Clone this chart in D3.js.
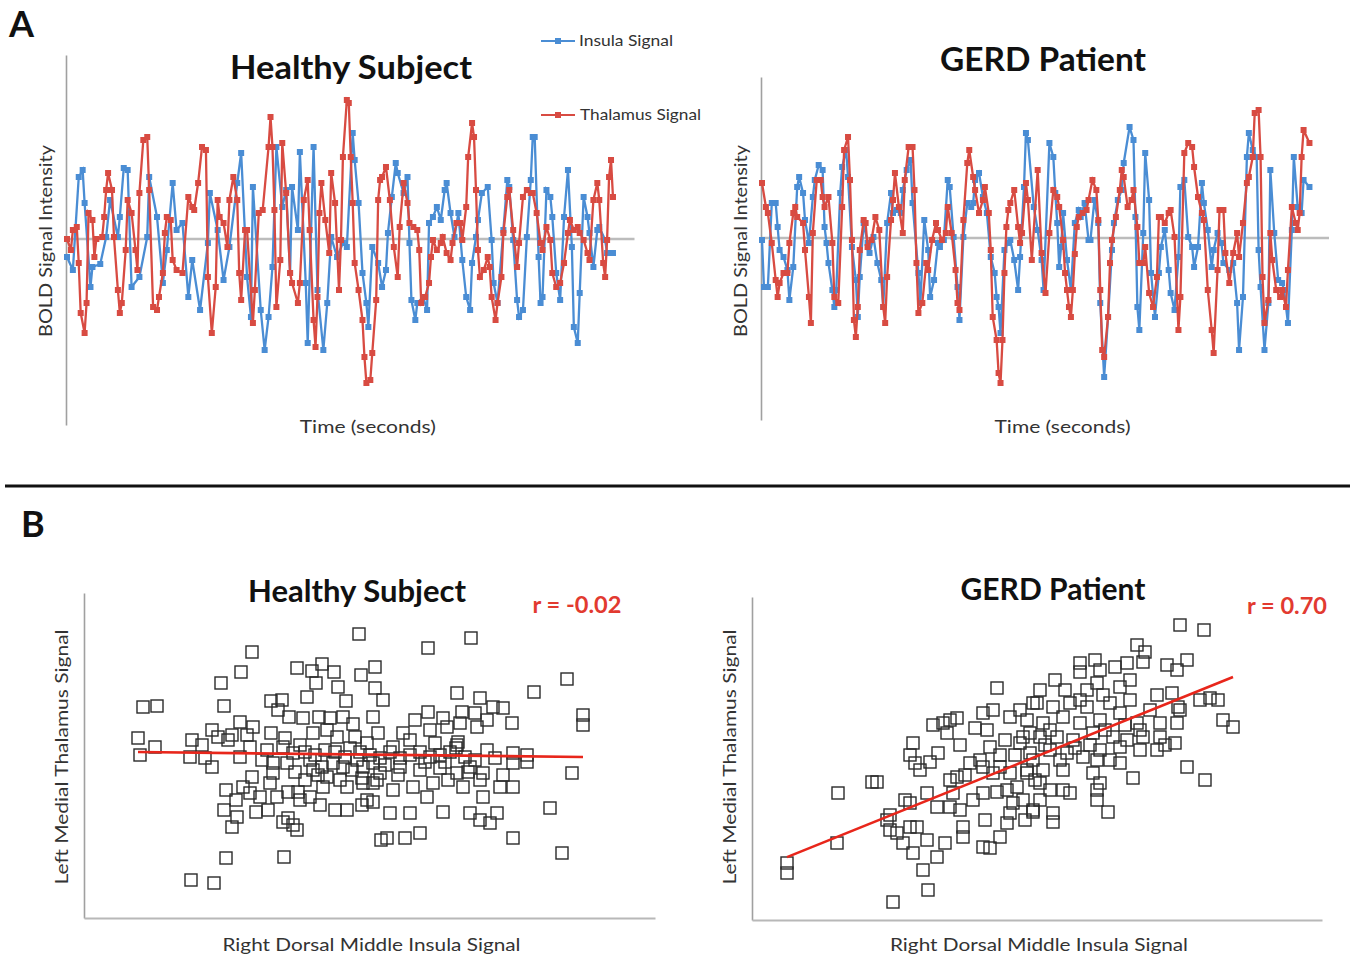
<!DOCTYPE html>
<meta charset="utf-8">
<style>
body { margin:0; background:#fff; }
text { font-family: Lato, "Open Sans", sans-serif; }
.title { font-weight:bold; font-size:32px; fill:#111; }
.axislabel { font-size:18px; fill:#333; }
.legend { font-size:15px; fill:#333; }
.rlabel { font-weight:bold; font-size:22px; fill:#e23a30; }
.axis path { stroke:#a0a0a0; stroke-width:1.6; }
.axis line { display:none; }
</style>
<body>
<svg width="1352" height="957"></svg>
<script src="https://d3js.org/d3.v7.min.js"></script>
<script>

// panel A: [time (s), BOLD signal]
var healthyInsula = [[0,-0.18],[3,-0.31],[6,0.62],[8,0.69],[9,0.36],[12,-0.48],[13,-0.28],[17,-0.25],[20,0.02],[22,0.39],[26,0.02],[27,0.22],[29,0.71],[31,0.69],[33,-0.48],[37,-0.38],[41,0.02],[42,0.62],[46,0.22],[49,-0.44],[51,-0.11],[54,0.56],[56,0.09],[59,0.16],[62,-0.58],[64,-0.21],[68,-0.71],[72,-0.04],[73,0.46],[77,0.09],[80,-0.41],[83,-0.08],[87,0.56],[89,0.86],[92,-0.38],[94,-0.78],[95,0.52],[99,-0.71],[101,-1.11],[103,-0.78],[105,-0.28],[107,0.92],[110,0.32],[112,0.49],[114,-0.34],[115,0.52],[118,0.09],[119,0.87],[122,-0.44],[123,-1.04],[126,0.92],[128,-0.51],[131,-1.11],[133,-0.64],[135,0.02],[138,-0.18],[141,-0.04],[143,-0.08],[146,1.06],[147,0.79],[149,0.36],[151,-0.34],[153,-0.64],[154,-0.88],[156,-0.08],[159,-0.24],[161,-0.48],[163,-0.31],[164,0.06],[166,0.42],[168,0.76],[169,0.66],[172,0.46],[174,0.62],[175,-0.04],[176,-0.61],[178,-0.81],[179,-0.64],[182,-0.58],[184,-0.71],[185,0.16],[187,0.22],[189,0.32],[191,0.19],[193,0.49],[194,0.56],[196,0.26],[198,0.02],[200,0.26],[202,-0.21],[204,-0.58],[206,-0.71],[207,-0.24],[209,0.02],[210,0.19],[212,0.46],[215,0.52],[217,-0.01],[218,-0.44],[220,-0.64],[223,0.09],[225,0.59],[226,0.52],[228,-0.01],[230,-0.61],[231,-0.78],[233,-0.71],[235,0.02],[237,0.59],[238,1.02],[239,1.02],[241,-0.18],[242,-0.64],[243,-0.58],[245,0.49],[247,0.42],[248,0.22],[250,-0.34],[252,-0.61],[254,0.22],[256,0.69],[258,-0.08],[259,-0.88],[261,-1.04],[262,-0.54],[264,0.42],[266,0.22],[267,0.06],[269,-0.28],[271,0.09],[272,0.12],[275,-0.01],[276,-0.14],[279,-0.14]];

var healthyThalamus = [[0,0],[2,-0.11],[3,0.09],[5,0.12],[6,-0.24],[7,-0.74],[9,-0.94],[10,-0.64],[11,0.26],[13,0.19],[14,-0.18],[15,0],[18,0.02],[19,0.22],[20,0.49],[21,0.66],[23,0.49],[24,0.02],[26,-0.51],[27,-0.74],[28,-0.64],[30,-0.11],[31,0.39],[33,0.26],[35,-0.11],[36,-0.31],[37,0.46],[39,0.99],[41,1.02],[42,0.49],[44,-0.68],[46,-0.71],[47,-0.58],[49,-0.34],[50,0.06],[51,0.22],[53,0.19],[54,-0.21],[56,-0.31],[59,-0.34],[62,0.42],[64,0.32],[65,0.29],[67,0.56],[69,0.92],[71,0.89],[72,-0.38],[74,-0.94],[76,-0.48],[77,0.39],[78,0.22],[80,0.16],[82,-0.08],[83,0.39],[85,0.62],[87,0.39],[88,-0.34],[89,-0.61],[91,0.09],[92,0.09],[95,-0.84],[96,-0.51],[98,0.26],[100,0.29],[103,0.92],[104,1.22],[105,0.92],[106,0.29],[107,-0.68],[109,-0.21],[110,0.96],[112,0.46],[114,-0.34],[115,-0.44],[118,-0.64],[119,-0.44],[121,0.39],[123,0.59],[124,0.09],[126,-0.81],[127,-1.08],[128,-0.58],[129,0.26],[130,0.56],[132,0.19],[134,-0.14],[135,0.66],[137,0.36],[139,-0.51],[140,-0.01],[141,0.82],[143,1.39],[144,1.36],[145,0.82],[146,0.36],[147,-0.24],[149,-0.51],[151,-0.81],[152,-1.18],[153,-1.44],[155,-1.41],[156,-1.14],[158,-0.61],[159,0.39],[160,0.59],[161,0.62],[163,0.72],[165,0.39],[167,-0.08],[169,-0.38],[170,0.12],[172,0.56],[174,0.36],[175,0.16],[177,0.12],[179,0.09],[180,-0.11],[181,-0.64],[183,-0.58],[185,-0.44],[186,-0.18],[187,-0.01],[189,-0.11],[191,-0.04],[192,0.02],[194,-0.14],[196,-0.21],[197,-0.04],[199,0.16],[201,0.16],[202,-0.01],[204,0.32],[205,0.82],[207,1.16],[208,1.02],[209,0.49],[210,-0.11],[211,-0.38],[213,-0.31],[215,-0.18],[216,-0.28],[217,-0.58],[219,-0.81],[220,-0.64],[222,-0.38],[223,0.06],[225,0.42],[226,0.49],[228,0.09],[230,-0.28],[231,-0.04],[233,0.42],[235,0.49],[237,0.46],[238,0.46],[240,0.26],[242,-0.04],[243,-0.11],[245,0.12],[247,-0.01],[248,-0.34],[250,-0.48],[252,-0.44],[254,-0.24],[256,0.06],[257,0.19],[259,0.09],[261,0.12],[262,0.06],[264,-0.01],[266,-0.14],[267,-0.21],[269,0.39],[271,0.56],[272,0.39],[274,-0.24],[275,-0.38],[276,-0.01],[277,0.62],[278,0.79],[279,0.42]];

var gerdInsula = [[0,-0.02],[1,-0.49],[3,-0.49],[5,0.35],[7,0.35],[8,0.11],[9,-0.12],[11,-0.19],[13,-0.32],[14,-0.62],[16,-0.29],[18,0.51],[19,0.61],[21,0.45],[22,0.18],[24,-0.05],[26,0.41],[27,0.58],[29,0.73],[31,0.68],[32,0.11],[33,-0.05],[34,-0.25],[36,-0.52],[37,-0.69],[38,-0.52],[40,0.45],[41,0.71],[43,0.88],[44,0.61],[46,-0.09],[48,-0.42],[49,-0.79],[50,-0.39],[52,0.15],[54,-0.05],[55,-0.15],[57,0.01],[59,-0.25],[61,-0.42],[62,-0.69],[64,0.15],[66,0.45],[67,0.25],[69,0.28],[71,0.25],[72,0.48],[74,0.68],[76,0.78],[77,0.35],[80,-0.35],[81,-0.65],[83,0.18],[85,-0.12],[86,-0.59],[88,-0.42],[90,-0.05],[91,-0.09],[93,-0.02],[95,0.58],[96,0.51],[98,0.01],[100,-0.49],[101,-0.82],[103,0.01],[105,0.35],[107,0.31],[108,0.35],[109,0.58],[111,0.65],[113,0.41],[115,0.25],[117,-0.19],[119,-0.35],[120,-0.59],[121,-0.69],[122,-0.95],[124,-0.12],[126,-0.05],[127,-0.02],[129,-0.22],[131,-0.52],[132,-0.19],[134,0.51],[135,1.05],[136,0.98],[139,0.31],[141,0.08],[143,-0.22],[144,-0.52],[147,0.95],[149,0.81],[150,0.45],[151,0.15],[152,-0.29],[153,-0.09],[154,0.25],[156,-0.22],[158,-0.52],[160,0.15],[162,0.28],[163,0.21],[165,0.35],[167,-0.02],[168,-0.02],[170,0.38],[172,0.15],[173,-0.65],[175,-1.39],[177,-0.79],[179,-0.12],[180,0.15],[182,0.38],[184,0.48],[185,0.75],[188,1.11],[190,0.98],[191,0.21],[192,-0.69],[193,-0.92],[195,0.05],[196,0.85],[198,0.38],[199,-0.35],[201,-0.79],[203,-0.35],[204,-0.09],[206,0.08],[208,-0.32],[209,-0.55],[211,-0.72],[213,-0.19],[214,0.51],[216,0.58],[218,0.01],[220,-0.09],[221,-0.29],[223,-0.09],[225,0.55],[226,0.35],[228,0.08],[230,-0.29],[231,-0.12],[233,0.05],[235,-0.05],[236,-0.25],[239,-0.32],[241,-0.25],[243,-0.65],[244,-1.12],[246,-0.59],[248,0.81],[249,1.05],[251,0.88],[253,0.81],[254,-0.12],[255,-0.49],[257,-1.12],[259,-0.65],[260,0.68],[262,0.05],[264,-0.42],[266,-0.45],[267,-0.52],[269,-0.85],[271,0.08],[272,0.81],[274,0.31],[276,0.25],[277,0.58],[280,0.51]];

var gerdThalamus = [[0,0.55],[2,0.31],[3,0.25],[5,-0.05],[7,-0.42],[8,-0.59],[9,-0.45],[11,-0.35],[13,-0.35],[14,-0.05],[16,0.25],[17,0.31],[18,0.21],[21,0.15],[22,-0.12],[24,-0.59],[25,-0.85],[26,0.05],[28,0.58],[30,0.58],[31,0.41],[32,0.31],[34,0.41],[36,-0.05],[37,-0.59],[39,-0.65],[41,0.31],[42,0.88],[44,1.01],[45,0.58],[46,-0.02],[47,-0.82],[48,-0.99],[49,-0.69],[50,-0.12],[52,0.18],[53,0.15],[54,-0.09],[56,-0.02],[58,0.21],[60,0.08],[62,-0.69],[63,-0.85],[64,-0.39],[66,0.18],[67,0.38],[68,0.65],[70,0.31],[72,0.05],[73,0.58],[75,0.91],[77,0.91],[78,0.48],[79,-0.25],[80,-0.75],[82,-0.65],[84,-0.25],[85,-0.32],[87,-0.02],[89,0.15],[90,0.08],[92,-0.02],[94,0.05],[95,0.31],[97,0.05],[99,-0.32],[100,-0.65],[101,-0.72],[103,0.18],[105,0.75],[106,0.88],[108,0.61],[109,0.48],[111,0.25],[113,0.38],[114,0.51],[116,0.25],[117,-0.12],[118,-0.79],[120,-1.02],[121,-1.35],[122,-1.45],[123,-1.02],[124,-0.35],[125,0.11],[126,0.28],[127,0.35],[129,0.48],[131,0.11],[132,-0.05],[133,0.05],[135,0.55],[136,0.38],[138,-0.22],[141,0.68],[143,-0.15],[145,-0.55],[147,0.05],[149,0.48],[151,0.41],[152,0.31],[154,-0.02],[155,-0.35],[156,-0.52],[157,-0.69],[158,-0.79],[159,-0.52],[160,-0.16],[161,0.11],[162,0.21],[164,0.25],[166,0.28],[167,0.38],[169,0.58],[171,0.48],[172,0.18],[173,-0.52],[174,-1.12],[175,-1.19],[177,-0.79],[178,-0.25],[179,-0.02],[181,0.21],[183,0.48],[184,0.68],[185,0.61],[187,0.31],[189,0.38],[190,0.48],[192,0.11],[193,-0.25],[195,-0.25],[196,-0.09],[198,-0.55],[200,-0.69],[202,-0.39],[203,0.21],[204,0.21],[206,0.15],[208,0.25],[209,0.28],[211,0.01],[213,-0.92],[214,-0.59],[216,0.85],[218,0.95],[220,0.91],[221,0.71],[223,0.41],[225,0.25],[226,0.18],[228,-0.52],[230,-0.92],[231,-1.15],[233,-0.32],[234,0.28],[236,0.28],[237,-0.15],[239,-0.45],[241,-0.15],[243,0.05],[244,-0.19],[246,0.15],[248,0.55],[249,0.61],[251,0.81],[252,1.25],[254,1.28],[255,0.81],[256,-0.39],[257,-0.85],[259,-0.62],[260,0.05],[261,-0.22],[263,-0.52],[265,-0.59],[266,-0.52],[268,-0.69],[269,-0.32],[271,0.31],[273,0.15],[274,0.08],[275,0.25],[276,0.81],[277,1.08],[280,0.95]];

// panel B: [right dorsal middle insula, left medial thalamus]
var healthyScatter = [[-0.01,1.21],[-1.08,1.03],[-1.19,0.83],[-1.39,0.72],[-2.17,0.48],[-2.03,0.49],[-1.36,0.49],[-0.63,0.87],[-0.48,0.84],[-0.38,0.91],[-0.26,0.83],[-0.44,0.72],[-0.22,0.68],[0.01,0.80],[0.15,0.88],[0.15,0.67],[-0.89,0.54],[-0.78,0.55],[-0.53,0.58],[-0.14,0.54],[-0.82,0.45],[-0.71,0.38],[-0.57,0.37],[-0.41,0.38],[-0.30,0.37],[-0.17,0.38],[-0.07,0.31],[0.13,0.38],[-1.48,0.25],[-1.20,0.33],[-1.07,0.28],[-1.42,0.18],[-1.28,0.20],[-1.13,0.20],[-0.89,0.22],[-1.68,0.15],[-1.58,0.10],[-2.22,0.17],[-2.05,0.08],[-2.20,0.00],[-1.48,-0.12],[-1.20,-0.02],[-1.10,0.08],[-0.93,0.05],[-0.77,0.08],[-0.67,0.02],[-0.47,0.22],[-0.33,0.25],[-0.23,0.18],[-0.05,0.18],[0.07,0.12],[-0.87,-0.08],[-0.73,-0.08],[-0.50,-0.05],[-0.38,-0.12],[-0.27,-0.08],[-0.17,-0.12],[-0.03,-0.05],[0.13,-0.08],[-0.87,-0.18],[-0.47,-0.15],[-0.33,-0.22],[-0.20,-0.25],[-0.13,-0.32],[0.03,-0.28],[0.17,-0.25],[-1.08,-0.22],[-1.17,-0.32],[-1.10,-0.38],[-1.00,-0.42],[-0.83,-0.42],[-0.72,-0.37],[-0.62,-0.37],[-0.50,-0.42],[-0.37,-0.32],[0.02,-0.50],[-0.13,-0.55],[0.13,-0.47],[-1.36,-0.55],[-1.23,-0.62],[-1.04,-0.57],[-1.28,-0.72],[-0.77,-0.67],[-0.67,-0.70],[-0.63,-0.75],[-1.34,-1.03],[-0.76,-1.02],[-1.69,-1.25],[-1.46,-1.28],[0.21,-0.85],[1.11,1.17],[0.68,1.07],[2.07,0.76],[1.74,0.63],[0.23,0.55],[0.97,0.62],[1.20,0.57],[1.43,0.47],[2.23,0.40],[2.23,0.30],[0.18,0.22],[0.55,0.35],[0.68,0.43],[0.83,0.37],[1.00,0.32],[1.15,0.42],[1.27,0.35],[1.33,0.48],[1.52,0.32],[1.02,0.43],[0.43,0.22],[0.70,0.25],[0.87,0.28],[1.17,0.28],[0.33,0.08],[0.50,0.15],[0.75,0.12],[0.97,0.10],[1.27,0.05],[1.53,0.02],[1.67,0.00],[1.53,-0.08],[1.67,-0.07],[2.12,-0.18],[0.03,-0.12],[0.20,-0.18],[0.40,-0.12],[0.60,-0.15],[0.80,-0.13],[0.97,-0.18],[1.10,-0.12],[1.23,-0.18],[1.43,-0.20],[0.13,-0.28],[0.33,-0.35],[0.53,-0.32],[0.73,-0.28],[0.88,-0.25],[1.03,-0.32],[1.20,-0.25],[1.40,-0.32],[1.53,-0.32],[0.07,-0.45],[0.30,-0.58],[0.50,-0.58],[0.67,-0.42],[0.83,-0.57],[1.10,-0.58],[1.23,-0.42],[1.37,-0.58],[1.20,-0.65],[1.30,-0.68],[1.90,-0.53],[0.27,-0.83],[0.45,-0.83],[0.60,-0.78],[1.53,-0.83],[2.02,-0.98],[-0.60,0.10],[-0.55,0.03],[-0.45,0.00],[-0.35,0.05],[-0.25,0.03],[-0.15,-0.02],[-0.10,0.07],[0.00,0.03],[0.10,0.00],[0.20,-0.03],[0.30,0.03],[0.40,-0.03],[0.50,0.00],[0.60,0.03],[0.70,-0.02],[0.80,0.00],[0.90,0.03],[0.96,0.07],[0.98,0.13],[1.05,-0.02],[1.15,-0.05],[1.35,-0.03],[-0.75,0.17],[-0.65,-0.17],[-0.55,-0.25],[-0.42,-0.20],[-0.08,-0.15],[0.02,-0.23],[0.25,-0.10],[0.38,-0.20],[0.65,-0.07],[0.85,-0.07],[1.08,-0.17],[-1.70,-0.02],[-1.55,-0.03],[-1.32,0.15],[-0.98,-0.05],[-0.90,-0.28],[-0.60,-0.45],[-0.40,-0.50],[-0.25,-0.55],[-1.34,-0.35],[-1.24,-0.45],[-0.92,-0.55],[-0.72,-0.63]];

var gerdScatter = [[-2.41,-1.05],[-2.41,-1.15],[-1.91,-0.85],[-1.90,-0.35],[-1.56,-0.24],[-1.51,-0.24],[-1.35,-1.44],[-1.00,-1.32],[-1.15,0.15],[-1.18,0.03],[-1.13,-0.05],[-1.08,-0.12],[-0.98,-0.04],[-0.90,0.05],[-0.95,0.33],[-0.85,0.35],[-0.78,0.38],[-0.71,0.40],[-0.81,0.25],[-1.41,-0.62],[-1.38,-0.72],[-1.31,-0.75],[-1.25,-0.85],[-1.18,-0.69],[-1.11,-0.69],[-1.15,-0.95],[-1.05,-1.12],[-0.91,-0.99],[-1.01,-0.82],[-0.83,-0.85],[-1.18,-0.45],[-1.01,-0.35],[-0.91,-0.49],[-0.78,-0.49],[-0.75,-0.35],[-0.68,-0.52],[-0.65,-0.69],[-0.65,-0.79],[-0.45,-0.89],[-0.38,-0.90],[-0.55,-0.42],[-0.45,-0.35],[-0.31,-0.34],[-0.21,-0.32],[-0.71,-0.19],[-0.58,-0.05],[-0.45,-0.09],[-0.35,-0.15],[-0.28,-0.09],[-0.18,-0.15],[-0.38,0.11],[-0.31,0.70],[-0.45,0.45],[-0.35,0.48],[-0.41,0.28],[-0.18,0.41],[-0.18,-0.55],[-0.15,-0.45],[-0.28,-0.79],[-0.21,-0.65],[0.05,0.55],[0.02,0.25],[-0.08,0.15],[0.05,-0.02],[-0.11,-0.29],[0.05,-0.52],[-0.05,-0.42],[-0.01,-0.15],[1.52,1.33],[1.76,1.28],[1.09,1.13],[1.17,1.06],[1.15,0.96],[0.87,0.91],[0.99,0.95],[1.39,0.93],[1.49,0.88],[1.59,0.98],[0.52,0.95],[0.52,0.86],[0.69,0.75],[0.92,0.71],[0.59,0.68],[0.75,0.63],[1.29,0.63],[1.44,0.65],[1.82,0.60],[1.90,0.58],[1.95,0.38],[2.05,0.31],[0.09,0.55],[0.25,0.51],[0.42,0.55],[0.59,0.51],[0.82,0.55],[1.02,0.58],[1.50,0.51],[-0.01,0.38],[0.15,0.35],[0.35,0.41],[0.52,0.35],[0.72,0.38],[0.92,0.45],[1.09,0.35],[1.32,0.35],[1.49,0.35],[-0.05,0.21],[0.12,0.21],[0.29,0.21],[0.45,0.18],[0.65,0.25],[0.85,0.21],[0.99,0.18],[1.15,0.21],[1.32,0.21],[1.47,0.15],[0.02,0.05],[0.22,0.08],[0.39,0.05],[0.55,0.01],[0.72,0.08],[0.92,0.11],[1.29,0.08],[-0.01,-0.12],[0.15,-0.12],[0.35,-0.12],[0.69,-0.02],[0.92,-0.05],[1.59,-0.09],[1.77,-0.22],[1.05,-0.20],[0.65,-0.15],[0.12,-0.25],[0.35,-0.32],[0.42,-0.35],[0.72,-0.25],[0.69,-0.32],[0.69,-0.42],[0.05,-0.54],[0.25,-0.55],[0.25,-0.64],[0.80,-0.54],[-0.23,0.18],[-0.13,0.03],[0.17,0.13],[0.32,-0.02],[0.47,0.10],[0.62,0.13],[0.77,0.28],[0.97,0.33],[0.22,0.28],[0.07,-0.22],[-0.28,0.03],[-0.48,-0.02],[-0.63,-0.17],[0.82,-0.02],[1.12,0.08],[0.52,0.58],[0.37,0.68],[0.72,0.88],[1.02,0.78],[1.22,0.48],[1.72,0.58],[-0.68,0.13],[-0.53,0.30],[-0.08,0.48],[0.12,0.68],[0.27,0.78],[0.67,0.98],[1.12,0.28],[1.37,0.13],[1.52,0.48],[0.12,-0.42],[-0.03,-0.62],[0.22,-0.32],[-0.43,-0.62],[-0.78,-0.22],[-1.23,-0.42],[-1.38,-0.57]];

// regression fits [slope, intercept] and correlation labels
var healthyFit = [-0.011, 0.005];
var gerdFit = [0.404, -0.018];
var rLabels = ["r = -0.02", "r = 0.70"];
var seriesNames = ["Insula Signal", "Thalamus Signal"];
var titles = ["Healthy Subject", "GERD Patient"];

var svg = d3.select("svg");
var blue = "#4a8dd4", red = "#d84b42";

// stretch text to the width it has in the figure
function fit(sel, len) {
	return sel.attr("textLength", len).attr("lengthAdjust", "spacingAndGlyphs");
}

function timePanel(insula, thalamus, xr, yr, yd, title, tx, ty, tw) {
	var x = d3.scaleLinear().domain([0, 290]).range(xr);
	var y = d3.scaleLinear().domain(yd).range(yr);
	var g = svg.append("g");

	g.append("g")
		.attr("class", "axis")
		.attr("transform", "translate(" + (xr[0] - 1) + ",0)")
		.call(d3.axisLeft(y).tickValues([]).tickSizeOuter(0));

	g.append("line")
		.attr("x1", x(0)).attr("x2", x(290))
		.attr("y1", y(0)).attr("y2", y(0))
		.style("stroke", "#bcbcbc")
		.style("stroke-width", 2.5);

	var line = d3.line().x(function(d){return x(d[0]);}).y(function(d){return y(d[1]);});

	[[insula, blue], [thalamus, red]].forEach(function(s){
		g.append("path")
			.datum(s[0])
			.attr("d", line)
			.style("fill", "none")
			.style("stroke", s[1])
			.style("stroke-width", 2.3);
		g.selectAll(null)
			.data(s[0])
			.enter().append("rect")
			.attr("x", function(d){return x(d[0]) - 3;})
			.attr("y", function(d){return y(d[1]) - 3;})
			.attr("width", 6)
			.attr("height", 6)
			.style("fill", s[1]);
	});

	fit(g.append("text").attr("class", "title")
		.attr("x", tx).attr("y", ty)
		.attr("text-anchor", "middle")
		.text(title), tw);

	fit(g.append("text").attr("class", "axislabel")
		.attr("x", (xr[0] + xr[1]) / 2 + 17).attr("y", 433)
		.attr("text-anchor", "middle")
		.text("Time (seconds)"), 136);

	fit(g.append("text").attr("class", "axislabel")
		.attr("transform", "translate(" + (xr[0] - 15) + ",241) rotate(-90)")
		.attr("text-anchor", "middle")
		.text("BOLD Signal Intensity"), 192);
}

timePanel(healthyInsula, healthyThalamus, [67, 634.5], [425, 55], [-1.86, 1.84], titles[0], 351, 79, 242);
timePanel(gerdInsula, gerdThalamus, [762, 1329], [420, 77], [-1.82, 1.61], titles[1], 1043, 71, 206);

// legend
[[blue, 41, seriesNames[0], 579, 94], [red, 115, seriesNames[1], 580, 121]].forEach(function(l){
	svg.append("line")
		.attr("x1", 541).attr("x2", 575)
		.attr("y1", l[1]).attr("y2", l[1])
		.style("stroke", l[0]).style("stroke-width", 2);
	svg.append("rect")
		.attr("x", 555).attr("y", l[1] - 3)
		.attr("width", 6).attr("height", 6)
		.style("fill", l[0]);
	fit(svg.append("text").attr("class", "legend")
		.attr("x", l[3]).attr("y", l[1] + 5)
		.text(l[2]), l[4]);
});

function scatterPanel(pts, fitLine, xr, yr, xd, yd, title, tx, ty, tw, rl, rx, ry, rw) {
	var x = d3.scaleLinear().domain(xd).range(xr);
	var y = d3.scaleLinear().domain(yd).range(yr);
	var g = svg.append("g");

	g.append("g")
		.attr("class", "axis")
		.attr("transform", "translate(" + xr[0] + ",0)")
		.call(d3.axisLeft(y).tickValues([]).tickSizeOuter(0));
	g.append("g")
		.attr("class", "axis")
		.attr("transform", "translate(0," + yr[0] + ")")
		.call(d3.axisBottom(x).tickValues([]).tickSizeOuter(0))
		.select("path").style("stroke", "#b8b8b8").style("stroke-width", 2.2);

	g.selectAll(null)
		.data(pts)
		.enter().append("rect")
		.attr("x", function(d){return x(d[0]) - 6;})
		.attr("y", function(d){return y(d[1]) - 6;})
		.attr("width", 12)
		.attr("height", 12)
		.style("fill", "none")
		.style("stroke", "#2a2a2a")
		.style("stroke-width", 1.4);

	var ext = d3.extent(pts, function(d){return d[0];});
	g.append("line")
		.attr("x1", x(ext[0])).attr("y1", y(fitLine[0] * ext[0] + fitLine[1]))
		.attr("x2", x(ext[1])).attr("y2", y(fitLine[0] * ext[1] + fitLine[1]))
		.style("stroke", "#e8261b")
		.style("stroke-width", 2.6);

	fit(g.append("text").attr("class", "title")
		.style("font-size", "30px")
		.attr("x", tx).attr("y", ty)
		.attr("text-anchor", "middle")
		.text(title), tw);

	fit(g.append("text").attr("class", "rlabel")
		.attr("x", rx).attr("y", ry)
		.attr("text-anchor", "middle")
		.text(rl), rw);

	fit(g.append("text").attr("class", "axislabel")
		.attr("x", (xr[0] + xr[1]) / 2 + 2).attr("y", 951)
		.attr("text-anchor", "middle")
		.text("Right Dorsal Middle Insula Signal"), 298);

	fit(g.append("text").attr("class", "axislabel")
		.attr("transform", "translate(" + (xr[0] - 16) + ",757) rotate(-90)")
		.attr("text-anchor", "middle")
		.text("Left Medial Thalamus Signal"), 255);
}

scatterPanel(healthyScatter, healthyFit, [84, 655], [918, 593], [-2.76, 2.95], [-1.63, 1.62], titles[0], 357, 602, 218, rLabels[0], 577, 613, 89);
scatterPanel(gerdScatter, gerdFit, [752, 1322], [920, 597], [-2.76, 2.94], [-1.62, 1.61], titles[1], 1053, 600, 185, rLabels[1], 1287, 614, 80);

// separator and panel letters
svg.append("line")
	.attr("x1", 5).attr("x2", 1350)
	.attr("y1", 486).attr("y2", 486)
	.style("stroke", "#111")
	.style("stroke-width", 3);

svg.append("text").attr("x", 9).attr("y", 37)
	.style("font-weight", "bold").style("font-size", "36px").style("fill", "#111")
	.text("A");
svg.append("text").attr("x", 21).attr("y", 537)
	.style("font-weight", "bold").style("font-size", "36px").style("fill", "#111")
	.text("B");

</script>
</body>
</html>
